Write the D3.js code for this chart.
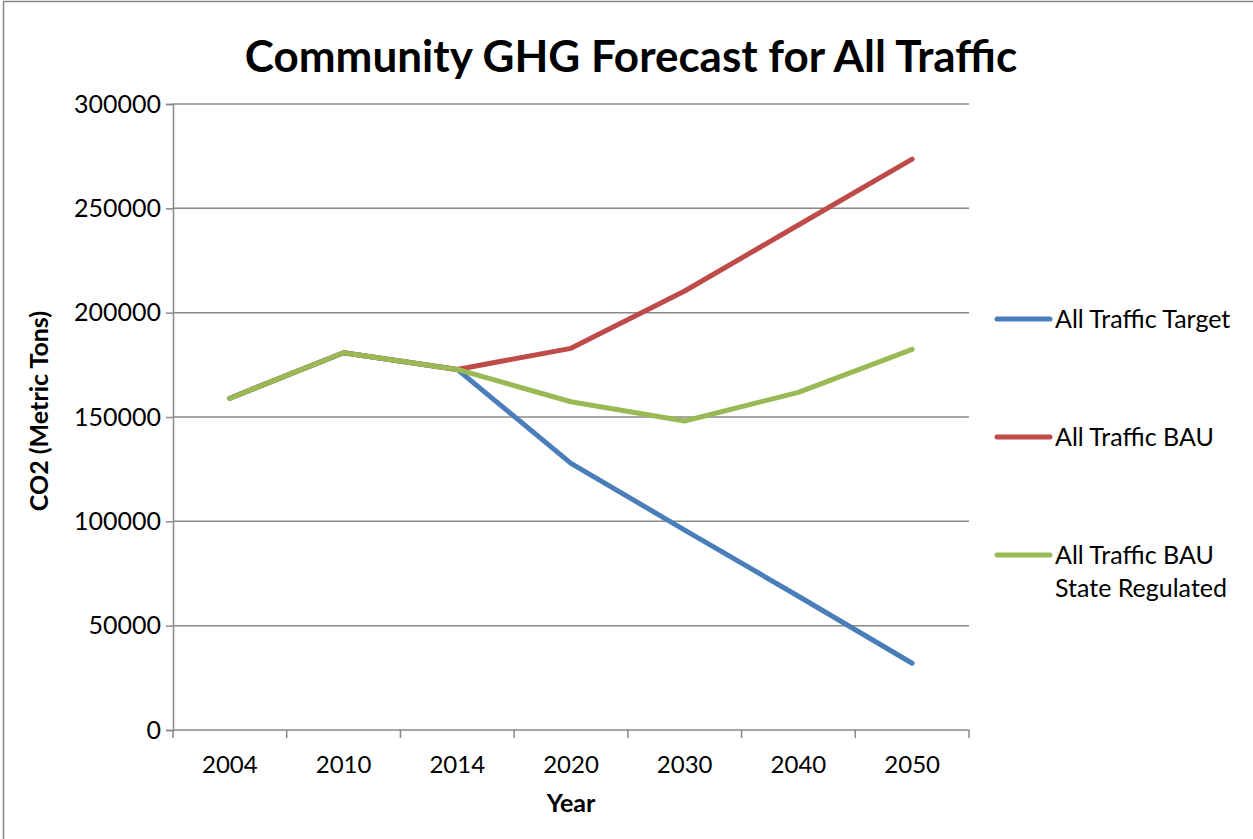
<!DOCTYPE html>
<html>
<head>
<meta charset="utf-8">
<script src="https://cdn.jsdelivr.net/npm/d3@7"></script>
<style>
  body { margin: 0; background: #fff; }
  text { font-family: Lato, "Open Sans", sans-serif; fill: #000; }
</style>
</head>
<body>
<svg id="chart" width="1253" height="839"></svg>
<script>
const years = ['2004', '2010', '2014', '2020', '2030', '2040', '2050'];
const target = [159000, 180800, 172800, 127800, 95800, 64100, 32000];
const bau = [159000, 180800, 172800, 182900, 210400, 242000, 273600];
const regulated = [159000, 180800, 172800, 157300, 148100, 161800, 182400];
const yTicks = [0, 50000, 100000, 150000, 200000, 250000, 300000];

const series = [
  { name: ['All Traffic Target'], values: target, color: '#4a7ebb' },
  { name: ['All Traffic BAU'], values: bau, color: '#be4b48' },
  { name: ['All Traffic BAU', 'State Regulated'], values: regulated, color: '#98b954' }
];

const svg = d3.select('#chart');
const plotLeft = 173, plotRight = 969, plotTop = 104, plotBottom = 730;

// chart frame
svg.append('rect')
  .attr('x', 3.5).attr('y', 1.5)
  .attr('width', 1300).attr('height', 900)
  .attr('fill', 'none').attr('stroke', '#888').attr('stroke-width', 1.5);

const x = d3.scaleBand().domain(years).range([plotLeft, plotRight]);
const y = d3.scaleLinear().domain([0, 300000]).range([plotBottom, plotTop]);

// gridlines
svg.append('g')
  .selectAll('line')
  .data(yTicks.filter(d => d > 0))
  .join('line')
  .attr('x1', plotLeft).attr('x2', plotRight)
  .attr('y1', d => y(d)).attr('y2', d => y(d))
  .attr('stroke', '#888').attr('stroke-width', 1.5);

// y axis
const yAxis = svg.append('g')
  .attr('transform', `translate(${plotLeft},0)`)
  .call(d3.axisLeft(y).tickValues(yTicks).tickSize(7).tickPadding(5).tickFormat(d => d));
yAxis.select('.domain').attr('stroke', '#888').attr('stroke-width', 1.5);
yAxis.selectAll('.tick line').attr('stroke', '#888').attr('stroke-width', 1.5);
yAxis.selectAll('text').style('font-size', '25px').style('font-family', 'Lato, sans-serif');

// x axis: ticks at band edges
const xAxis = svg.append('g')
  .attr('transform', `translate(0,${plotBottom})`);
xAxis.append('line')
  .attr('x1', plotLeft).attr('x2', plotRight)
  .attr('stroke', '#888').attr('stroke-width', 1.5);
xAxis.selectAll('.edge')
  .data(years.map(d => x(d)).concat([plotRight]))
  .join('line')
  .attr('class', 'edge')
  .attr('x1', d => d).attr('x2', d => d)
  .attr('y1', 0).attr('y2', 8)
  .attr('stroke', '#888').attr('stroke-width', 1.5);
xAxis.selectAll('text')
  .data(years)
  .join('text')
  .attr('x', d => x(d) + x.bandwidth() / 2)
  .attr('y', 43)
  .attr('text-anchor', 'middle')
  .style('font-size', '24px')
  .text(d => d);

// lines
const line = d3.line()
  .x((d, i) => x(years[i]) + x.bandwidth() / 2)
  .y(d => y(d));

svg.append('g')
  .selectAll('path')
  .data(series)
  .join('path')
  .attr('d', d => line(d.values))
  .attr('fill', 'none')
  .attr('stroke', d => d.color)
  .attr('stroke-width', 5)
  .attr('stroke-linecap', 'round')
  .attr('stroke-linejoin', 'round');

// titles
svg.append('text')
  .attr('x', 631).attr('y', 72)
  .attr('text-anchor', 'middle')
  .style('font-size', '44px').style('font-weight', 'bold')
  .text('Community GHG Forecast for All Traffic');

svg.append('text')
  .attr('transform', 'translate(48,411) rotate(-90)')
  .attr('text-anchor', 'middle')
  .style('font-size', '25px').style('font-weight', 'bold')
  .text('CO2 (Metric Tons)');

svg.append('text')
  .attr('x', 571).attr('y', 812)
  .attr('text-anchor', 'middle')
  .style('font-size', '25px').style('font-weight', 'bold')
  .text('Year');

// legend
const legendY = [319, 437, 555];
const legend = svg.append('g')
  .selectAll('g')
  .data(series)
  .join('g')
  .attr('transform', (d, i) => `translate(997,${legendY[i]})`);
legend.append('line')
  .attr('x1', 0).attr('x2', 53)
  .attr('stroke', d => d.color)
  .attr('stroke-width', 5)
  .attr('stroke-linecap', 'round');
legend.append('text')
  .attr('x', 58)
  .style('font-size', '25px')
  .selectAll('tspan')
  .data(d => d.name)
  .join('tspan')
  .attr('x', 58)
  .attr('y', (d, i) => 9 + i * 33)
  .text(d => d);
</script>
</body>
</html>
